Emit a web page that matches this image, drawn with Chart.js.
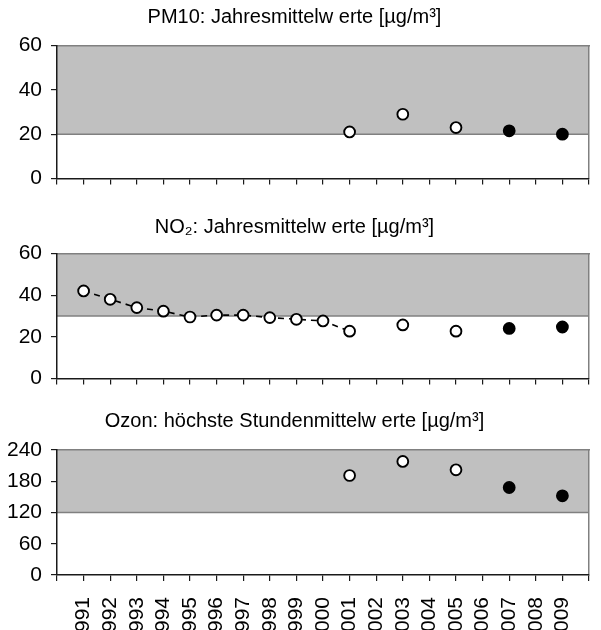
<!DOCTYPE html>
<html>
<head>
<meta charset="utf-8">
<script src="https://cdn.jsdelivr.net/npm/chart.js@4.4.1/dist/chart.umd.min.js"></script>
<style>
  html, body { margin: 0; padding: 0; background: #fff; overflow: hidden; }
  #wrap { position: relative; width: 601px; height: 630px; overflow: hidden; background: #fff; }
  .panel { position: absolute; left: 0; }
  canvas { display: block; }
</style>
</head>
<body>
<div id="wrap">
  <div class="panel" style="top:0px"><canvas id="c1" width="601" height="200"></canvas></div>
  <div class="panel" style="top:200px"><canvas id="c2" width="601" height="200"></canvas></div>
  <div class="panel" style="top:400px"><canvas id="c3" width="601" height="250"></canvas></div>
</div>
<script>
// ---- data ----
const years = [1991,1992,1993,1994,1995,1996,1997,1998,1999,2000,2001,2002,2003,2004,2005,2006,2007,2008,2009];
const xMin = 1990, xMax = 2010;

const pm10Open   = [null,null,null,null,null,null,null,null,null,null,21,null,29,null,23,null,null,null,null];
const pm10Filled = [null,null,null,null,null,null,null,null,null,null,null,null,null,null,null,null,21.5,null,20];
const pm10Limit = 20;
const pm10Ticks = [0, 60, 20];

const no2Open   = [42,38,34,32.3,29.5,30.4,30.4,29.2,28.4,27.6,22.7,null,25.7,null,22.7,null,null,null,null];
const no2Filled = [null,null,null,null,null,null,null,null,null,null,null,null,null,null,null,null,24,null,24.7];
const no2Limit = 30;
const no2Ticks = [0, 60, 20];

const o3Open   = [null,null,null,null,null,null,null,null,null,null,191,null,218,null,202,null,null,null,null];
const o3Filled = [null,null,null,null,null,null,null,null,null,null,null,null,null,null,null,null,168,null,152];
const o3Limit = 120;
const o3Ticks = [0, 240, 60];

const titles = [
  'PM10: Jahresmittelw erte [µg/m³]',
  'NO₂: Jahresmittelw erte [µg/m³]',
  'Ozon: höchste Stundenmittelw erte [µg/m³]'
];

// ---- styling ----
Chart.defaults.font.family = "'Liberation Sans', Arial, sans-serif";
Chart.defaults.color = '#000';
const AXIS = '#1a1a1a';
const FRAME = '#808080';
const BAND = '#c0c0c0';

function pts(vals) { return years.map((y, i) => ({x: y, y: vals[i]})); }

function noPad(s) { s.paddingLeft = 0; s.paddingRight = 0; s.paddingTop = 0; s.paddingBottom = 0; }

function makeChart(id, title, openVals, filledVals, limit, yt, lay) {
  const datasets = [
    {
      data: pts(filledVals), showLine: false, spanGaps: false,
      borderColor: '#000', pointRadius: 5.6, pointBorderWidth: 1.6,
      pointBackgroundColor: '#000', pointBorderColor: '#000', order: 0
    },
    {
      data: pts(openVals), spanGaps: false,
      borderColor: '#000', borderWidth: 1.6, borderDash: [6, 5],
      pointRadius: 5.4, pointBorderWidth: 1.9,
      pointBackgroundColor: '#fff', pointBorderColor: '#000', order: 1
    },
    {
      data: [{x: xMin, y: limit}, {x: xMax, y: limit}],
      borderColor: FRAME, borderWidth: 1.5, pointRadius: 0,
      fill: 'end', backgroundColor: BAND, order: 5
    }
  ];
  return new Chart(document.getElementById(id), {
    type: 'line',
    data: { datasets },
    options: {
      responsive: false, animation: false,
      layout: { padding: { left: 0, right: 12, top: 0, bottom: 0 } },
      plugins: {
        legend: { display: false }, tooltip: { enabled: false },
        title: {
          display: true, text: title, color: '#000',
          font: { size: 20, weight: 'normal' },
          padding: { top: lay.tTop, bottom: lay.tBot }
        }
      },
      scales: {
        x: {
          type: 'linear', position: 'bottom', min: xMin, max: xMax,
          afterFit: s => { s.height = lay.xH; noPad(s); },
          grid: { display: true, drawOnChartArea: false, drawTicks: true, tickLength: 6, color: AXIS, lineWidth: 1.2 },
          border: { display: true, color: AXIS, width: 1.5, z: 2 },
          ticks: {
            display: lay.labels, stepSize: 1, autoSkip: false,
            minRotation: 90, maxRotation: 90, padding: 16,
            font: { size: 21 }, color: '#000',
            callback: v => (v === xMin || v === xMax) ? '' : String(v)
          }
        },
        xTop: {
          type: 'linear', position: 'top', min: xMin, max: xMax,
          afterFit: s => { s.height = 0; noPad(s); },
          grid: { display: false, drawTicks: false },
          border: { display: true, color: FRAME, width: 1.5, z: 1 },
          ticks: { display: false }
        },
        y: {
          min: yt[0], max: yt[1], position: 'left',
          afterFit: s => { s.width = 57; },
          grid: { display: true, drawOnChartArea: false, drawTicks: true, tickLength: 6, color: AXIS, lineWidth: 1.2 },
          border: { display: true, color: AXIS, width: 1.5, z: 2 },
          ticks: { stepSize: yt[2], padding: 9, font: { size: 21 }, color: '#000' }
        },
        yRight: {
          min: yt[0], max: yt[1], position: 'right',
          afterFit: s => { s.width = 0; noPad(s); },
          grid: { display: false, drawTicks: false },
          border: { display: true, color: FRAME, width: 1.5, z: 1 },
          ticks: { display: false }
        }
      }
    }
  });
}

makeChart('c1', titles[0], pm10Open, pm10Filled, pm10Limit, pm10Ticks,
  { tTop: 5, tBot: 16.7, xH: 14.3, labels: false });
makeChart('c2', titles[1], no2Open, no2Filled, no2Limit, no2Ticks,
  { tTop: 15.5, tBot: 14, xH: 20, labels: false });
makeChart('c3', titles[2], o3Open, o3Filled, o3Limit, o3Ticks,
  { tTop: 9, tBot: 17, xH: 75, labels: true });
</script>
</body>
</html>
